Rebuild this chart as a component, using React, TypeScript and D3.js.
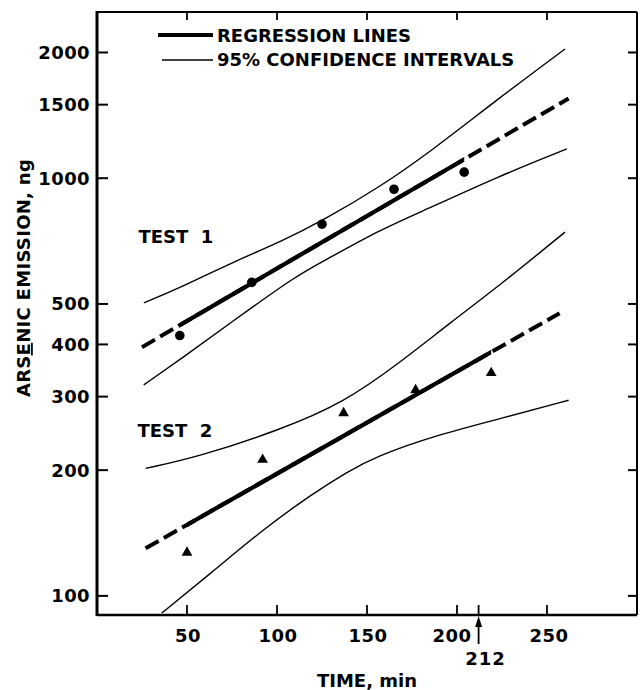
import React from "react";
import * as d3 from "d3";

// axis ticks
const yTicks = [100, 200, 300, 400, 500, 1000, 1500, 2000];
const xTicksTop = [50, 100, 150, 200, 250];
const xTicksBottom = [50, 100, 150, 200, 212, 250];
const xTickLabels = [50, 100, 150, 200, 250];

// measured points
const test1Times = [46, 86, 125, 165, 204];
const test1Values = [420, 563, 776, 941, 1034];
const test2Times = [50, 92, 137, 177, 219];
const test2Values = [127, 212, 274, 311, 342];

// regression lines (end points) and the span drawn solid
const reg1Ends = [[25, 394], [262, 1552]];
const reg1Solid = [46, 204];
const reg2Ends = [[27, 130], [257, 475]];
const reg2Solid = [50, 219];

// 95% confidence curves
const ci1Upper = [[26, 503], [46, 546], [79, 640], [102, 704], [126, 794], [157, 952], [185, 1155], [222, 1539], [260, 2039]];
const ci1Lower = [[26, 320], [48, 373], [74, 450], [111, 586], [128, 640], [157, 752], [185, 849], [222, 1006], [261, 1175]];
const ci2Upper = [[27, 202], [56, 215], [102, 250], [137, 290], [168, 361], [196, 450], [224, 555], [260, 743]];
const ci2Lower = [[36, 91], [64, 114], [92, 144], [120, 176], [139, 198], [154, 215], [189, 243], [226, 267], [262, 294]];

const FONT = "'DejaVu Sans', Arial, sans-serif";

export default function App() {
  const width = 643;
  const height = 690;
  const left = 97, right = 637, top = 12, bottom = 615;

  const x = d3.scaleLinear().domain([0, 300]).range([left, right]);
  const y = d3.scaleLog().domain([90, 2500]).range([bottom, top]);

  const curve = d3
    .line<number[]>()
    .x((d) => x(d[0]))
    .y((d) => y(d[1]))
    .curve(d3.curveBasis);
  const straight = d3
    .line<number[]>()
    .x((d) => x(d[0]))
    .y((d) => y(d[1]));

  const tri = d3.symbol().type(d3.symbolTriangle).size(50)();

  const regression = (ends: number[][], solid: number[], id: string) => (
    <g>
      <clipPath id={id}>
        <rect x={x(solid[0])} y={top} width={x(solid[1]) - x(solid[0])} height={bottom - top} />
      </clipPath>
      <path d={straight(ends) ?? ""} fill="none" stroke="#000" strokeWidth={4} strokeDasharray="15 6" />
      <path d={straight(ends) ?? ""} fill="none" stroke="#000" strokeWidth={4.2} clipPath={`url(#${id})`} />
    </g>
  );

  return (
    <svg
      width={width}
      height={height}
      style={{ position: "absolute", left: 0, top: 0, display: "block", background: "#fff" }}
      fontFamily={FONT}
      fontWeight="bold"
    >
      {/* frame */}
      <line x1={left} x2={left} y1={top - 1} y2={bottom + 1} stroke="#000" strokeWidth={3} />
      <line x1={left} x2={right} y1={bottom} y2={bottom} stroke="#000" strokeWidth={2.5} />
      <line x1={left} x2={right} y1={top} y2={top} stroke="#000" strokeWidth={2} />
      <line x1={right} x2={right} y1={top} y2={bottom} stroke="#000" strokeWidth={2} />

      {yTicks.map((v) => (
        <g key={v}>
          <line x1={left} x2={left + 11} y1={y(v)} y2={y(v)} stroke="#000" strokeWidth={2} />
          <line x1={right} x2={right - 9} y1={y(v)} y2={y(v)} stroke="#000" strokeWidth={2} />
          <text x={left - 7} y={y(v)} dy="0.36em" textAnchor="end" fontSize={18} letterSpacing={0.4}>
            {v}
          </text>
        </g>
      ))}
      {xTicksTop.map((v) => (
        <line key={v} x1={x(v)} x2={x(v)} y1={top} y2={top + 8} stroke="#000" strokeWidth={1.8} />
      ))}
      {xTicksBottom.map((v) => (
        <line key={v} x1={x(v)} x2={x(v)} y1={bottom} y2={bottom - 10} stroke="#000" strokeWidth={1.8} />
      ))}
      {xTickLabels.map((v) => (
        <text key={v} x={x(v) + (v === 200 ? -5 : v === 250 ? 2 : 1)} y={642} textAnchor="middle" fontSize={18} letterSpacing={0.4}>
          {v}
        </text>
      ))}

      {/* 212 marker */}
      <line x1={x(212)} x2={x(212)} y1={644} y2={624} stroke="#000" strokeWidth={1.8} />
      <path d={`M${x(212)},616 L${x(212) - 3.5},627 L${x(212) + 3.5},627 Z`} fill="#000" />
      <text x={x(212) + 7} y={665} textAnchor="middle" fontSize={18} letterSpacing={1}>
        212
      </text>

      {/* axis titles */}
      <text x={367} y={687} textAnchor="middle" fontSize={18}>
        TIME, min
      </text>
      <text transform={`translate(30,278) rotate(-90)`} textAnchor="middle" fontSize={18} letterSpacing={0.3}>
        ARS<tspan textDecoration="underline">E</tspan>NIC EMISSION, ng
      </text>

      {/* confidence intervals */}
      {[ci1Upper, ci1Lower, ci2Upper, ci2Lower].map((c, i) => (
        <path key={i} d={curve(c) ?? ""} fill="none" stroke="#000" strokeWidth={1.4} />
      ))}

      {/* regression lines */}
      {regression(reg1Ends, reg1Solid, "clip-reg1")}
      {regression(reg2Ends, reg2Solid, "clip-reg2")}

      {/* points */}
      {test1Times.map((t, i) => (
        <circle key={i} cx={x(t)} cy={y(test1Values[i])} r={4.8} fill="#000" />
      ))}
      {test2Times.map((t, i) => (
        <path key={i} d={tri ?? ""} transform={`translate(${x(t)},${y(test2Values[i])})`} fill="#000" />
      ))}

      {/* test labels */}
      <text x={x(23)} y={y(700)} fontSize={18} style={{ whiteSpace: "pre" }}>
        TEST  1
      </text>
      <text x={x(22.5)} y={y(240)} fontSize={18} style={{ whiteSpace: "pre" }}>
        TEST  2
      </text>

      {/* legend */}
      <line x1={158} x2={213} y1={35} y2={35} stroke="#000" strokeWidth={4} />
      <line x1={162} x2={213} y1={60} y2={60} stroke="#000" strokeWidth={1.4} />
      <text x={217} y={42} fontSize={18}>
        REGRESSION LINES
      </text>
      <text x={217} y={66} fontSize={18}>
        95% CONFIDENCE INTERVALS
      </text>
    </svg>
  );
}
